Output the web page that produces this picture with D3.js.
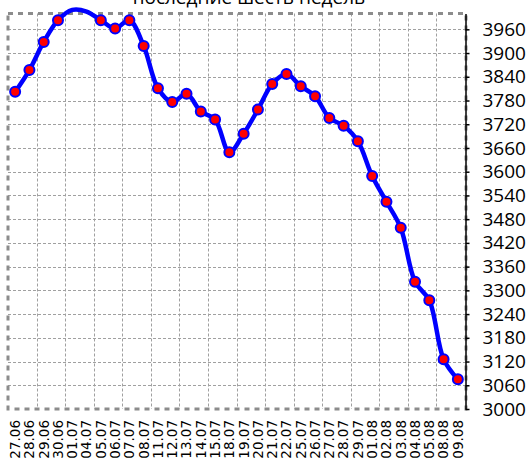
<!DOCTYPE html>
<html>
<head>
<meta charset="utf-8">
<script src="https://cdn.jsdelivr.net/npm/d3@7"></script>
<style>
  body { margin: 0; background: #fff; }
  svg { display: block; overflow: visible; }
</style>
</head>
<body>
<div id="chart"></div>
<script>
// Chart data
var dates = ["27.06", "28.06", "29.06", "30.06", "01.07", "04.07", "05.07", "06.07",
    "07.07", "08.07", "11.07", "12.07", "13.07", "14.07", "15.07", "18.07",
    "19.07", "20.07", "21.07", "22.07", "25.07", "26.07", "27.07", "28.07",
    "29.07", "01.08", "02.08", "03.08", "04.08", "05.08", "08.08", "09.08"];
var values = [3802, 3857, 3928, 3983, 4009, 4005, 3983, 3962,
    3983, 3918, 3811, 3776, 3797, 3752, 3732, 3649,
    3696, 3757, 3822, 3847, 3816, 3791, 3736, 3716,
    3677, 3589, 3524, 3458, 3322, 3275, 3126, 3075];
var yTicks = [3000, 3060, 3120, 3180, 3240, 3300, 3360, 3420,
    3480, 3540, 3600, 3660, 3720, 3780, 3840, 3900, 3960];
var yDomain = [3000, 4000];
var title = "последние шесть недель";

var width = 529, height = 462;
// plot box (note: "top" is a reserved window property, so use plot* names)
var plotLeft = 8, plotRight = 465, plotTop = 13.5, plotBottom = 409;

var svg = d3.select("#chart")
    .append("svg")
    .attr("width", width)
    .attr("height", height);

var x = d3.scaleBand()
    .domain(dates)
    .range([plotLeft, plotRight]);

var y = d3.scaleLinear()
    .domain(yDomain)
    .range([plotBottom, plotTop]);

var points = dates.map(function(d, i) { return { date: d, value: values[i] }; });

// Gridlines
var grid = svg.append("g")
    .attr("stroke", "#a0a0a0")
    .attr("stroke-width", 1)
    .attr("stroke-dasharray", "3,2");

grid.selectAll(".hgrid")
    .data(yTicks.filter(function(t) { return t > yDomain[0]; }))
    .enter()
    .append("line")
    .attr("x1", plotLeft).attr("x2", plotRight)
    .attr("y1", function(d) { return Math.round(y(d)) + 0.5; })
    .attr("y2", function(d) { return Math.round(y(d)) + 0.5; });

grid.selectAll(".vgrid")
    .data(dates.filter(function(d, i) { return i > 0 && i % 2 === 0; }))
    .enter()
    .append("line")
    .attr("y1", plotTop).attr("y2", plotBottom)
    .attr("x1", function(d) { return Math.round(x(d)) + 0.5; })
    .attr("x2", function(d) { return Math.round(x(d)) + 0.5; });

// Plot border (thick grey dashes)
svg.append("rect")
    .attr("x", plotLeft).attr("y", plotTop)
    .attr("width", plotRight - plotLeft + 1).attr("height", plotBottom - plotTop)
    .attr("fill", "none")
    .attr("stroke", "#8c8c8c")
    .attr("stroke-width", 3)
    .attr("stroke-dasharray", "5,5");

// Smoothed line
var line = d3.line()
    .x(function(d) { return x(d.date) + x.bandwidth() / 2; })
    .y(function(d) { return y(d.value); })
    .curve(d3.curveCatmullRom.alpha(0.5));

svg.append("path")
    .datum(points)
    .attr("fill", "none")
    .attr("stroke", "#0000ff")
    .attr("stroke-width", 4.5)
    .attr("stroke-linejoin", "round")
    .attr("d", line);

// Markers (only those inside the value range)
svg.selectAll(".marker")
    .data(points.filter(function(d) { return d.value <= yDomain[1]; }))
    .enter()
    .append("circle")
    .attr("class", "marker")
    .attr("cx", function(d) { return x(d.date) + x.bandwidth() / 2; })
    .attr("cy", function(d) { return y(d.value); })
    .attr("r", 5)
    .attr("fill", "#ff0000")
    .attr("stroke", "#0000ff")
    .attr("stroke-width", 2);

// Right value axis
var yAxis = svg.append("g")
    .attr("transform", "translate(" + (plotRight + 0.5) + ",0)")
    .call(d3.axisRight(y)
        .tickValues(yTicks)
        .tickFormat(d3.format("d"))
        .tickSize(4)
        .tickSizeOuter(0)
        .tickPadding(13));

yAxis.select(".domain")
    .attr("stroke", "#000")
    .attr("stroke-width", 1.5);
yAxis.selectAll(".tick line").attr("stroke", "#000").attr("stroke-width", 1.5);
yAxis.selectAll(".tick text")
    .attr("fill", "#000")
    .style("font-family", "'Open Sans', sans-serif")
    .style("font-size", "19px");

// Category labels, rotated
svg.selectAll(".xlabel")
    .data(dates)
    .enter()
    .append("text")
    .attr("class", "xlabel")
    .attr("transform", function(d) {
        return "translate(" + (x(d) + x.bandwidth() / 2) + "," + 420 + ") rotate(-90)";
    })
    .attr("dy", "0.36em")
    .attr("text-anchor", "end")
    .style("font-family", "'DejaVu Sans', sans-serif")
    .style("font-size", "13.5px")
    .text(function(d) { return d; });

// Title (partly cut off at the top, as in the original)
svg.append("text")
    .attr("x", 249)
    .attr("y", 4)
    .attr("text-anchor", "middle")
    .style("font-family", "'Open Sans', sans-serif")
    .style("font-size", "19px")
    .text(title);
</script>
</body>
</html>
